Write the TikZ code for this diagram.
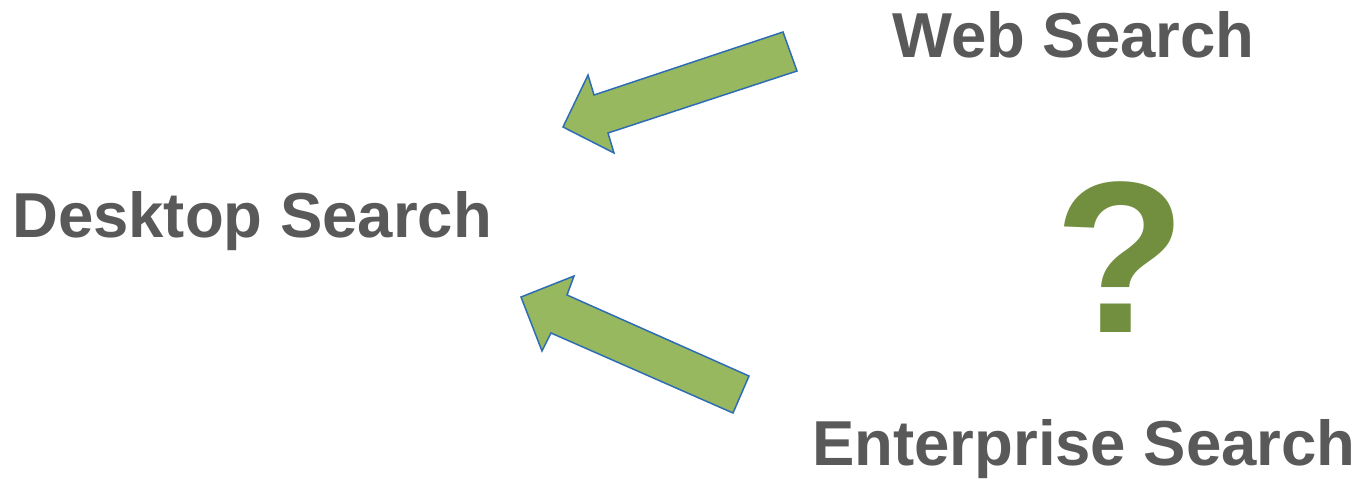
\documentclass[tikz,border=0pt]{standalone}
\usepackage{fontspec}
\setmainfont{Liberation Sans}
\definecolor{txtgray}{HTML}{595959}
\definecolor{arrowgreen}{HTML}{97B85E}
\definecolor{arrowblue}{HTML}{2E6DB4}
\definecolor{qgreen}{HTML}{718F3F}
\begin{document}
\begin{tikzpicture}[x=1pt,y=-1pt,
  lbl/.style={inner sep=0pt, anchor=base west, text=txtgray, font=\fontsize{63.5}{63.5}\selectfont\bfseries},
  bigarrow/.style={fill=arrowgreen, draw=arrowblue, line width=1.5pt, line join=miter}]
\useasboundingbox (0,0) rectangle (1363,480);
\node[lbl] (web) at (892,57) {Web Search};
\node[lbl] (desk) at (12,237) {Desktop Search};
\node[lbl] (ent) at (812,465) {Enterprise Search};
\node[inner sep=0pt, anchor=base west, text=qgreen, font=\fontsize{216}{216}\selectfont\bfseries] (q) at (1054,332) {?};
\draw[bigarrow] (783,32) -- (797,71) -- (608,133) -- (614,153) -- (563,127) -- (588,75) -- (594,95) -- cycle;
\draw[bigarrow] (521,297) -- (574,276) -- (567,295) -- (749,376) -- (733,413) -- (551,333) -- (542,351) -- cycle;
\end{tikzpicture}
\end{document}
